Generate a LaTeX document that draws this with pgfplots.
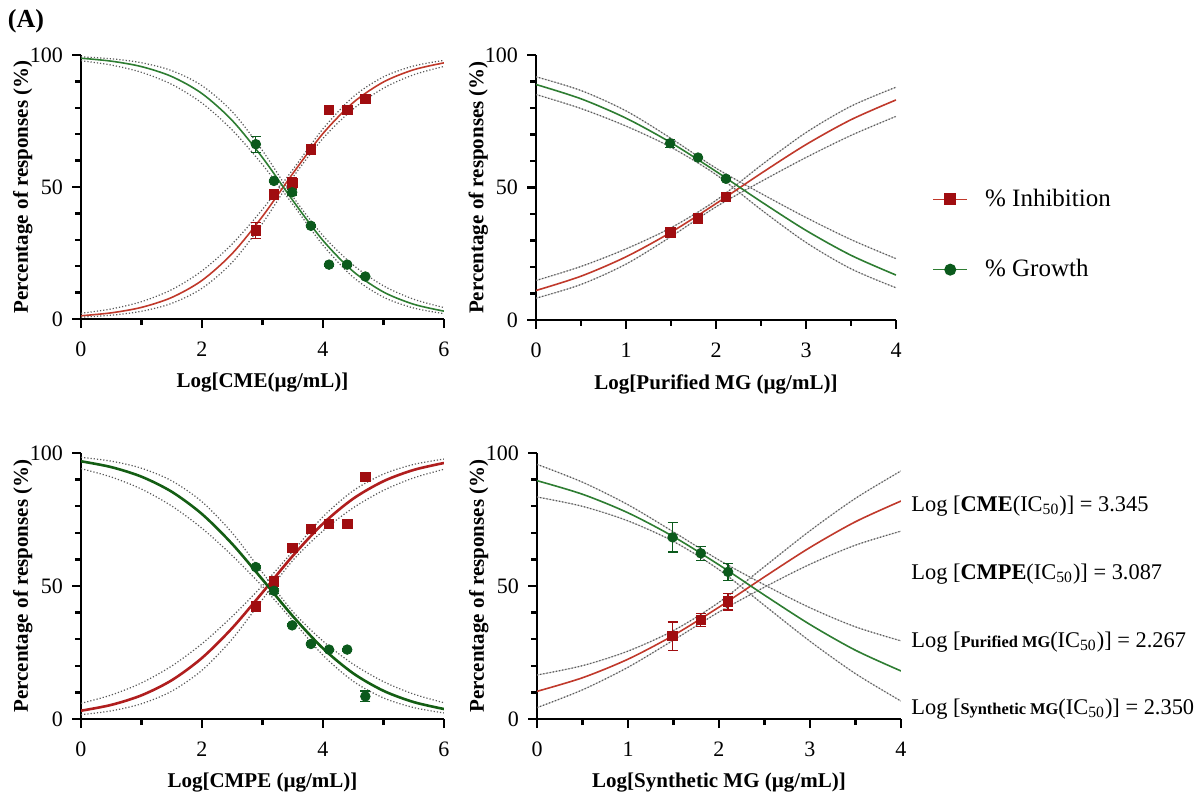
\documentclass[border=0pt]{standalone}
\usepackage{pgfplots}
\pgfplotsset{compat=1.18}
\usepackage{fontspec}
\setmainfont{Liberation Serif}
\definecolor{redline}{HTML}{C0392B}
\definecolor{redmark}{HTML}{A00D10}
\definecolor{greenline}{HTML}{2E7D32}
\definecolor{greenmark}{HTML}{0B5A1C}
\definecolor{redthick}{HTML}{B01E1E}
\definecolor{greenthick}{HTML}{145E14}
\pgfplotsset{
  prism/.style={
    scale only axis, axis lines=left, axis line style={-, line width=1.3pt, black},
    tick align=outside, xtick align=outside, ytick align=outside,
    major tick length=4.5pt, minor tick length=3pt,
    every tick/.style={line width=1.2pt, black},
    ymin=0, ymax=100, ytick={0,50,100}, minor y tick num=4,
    tick label style={font=\fontsize{11}{12}\selectfont},
    xticklabel style={yshift=-3.5pt},
    yticklabel style={xshift=-1pt},
    /pgf/number format/assume math mode=true,
    ylabel={Percentage of responses (\%)},
    label style={font=\bfseries\fontsize{10.5}{12}\selectfont},
    ylabel style={at={(axis description cs:-0.16,0.5)}, anchor=center},
    xlabel style={at={(axis description cs:0.5,0)}, yshift=-32pt, anchor=center},
  },
  band/.style={black!65, densely dotted, line width=0.6pt, smooth, mark=none, forget plot},
  bandsolid/.style={gray!45, line width=0.5pt, smooth, mark=none, forget plot},
  rfit/.style={redline, line width=0.8pt, smooth, mark=none, forget plot},
  gfit/.style={greenline, line width=0.8pt, smooth, mark=none, forget plot},
  rdata/.style={only marks, mark=square*, mark size=2.4pt, redmark, mark options={fill=redmark}, forget plot,
    error bars/.cd, y dir=both, y explicit, error bar style={line width=0.6pt}, error mark options={rotate=90, mark size=2.5pt, line width=0.6pt}},
  gdata/.style={only marks, mark=*, mark size=2.4pt, greenmark, mark options={fill=greenmark}, forget plot,
    error bars/.cd, y dir=both, y explicit, error bar style={line width=0.6pt}, error mark options={rotate=90, mark size=2.5pt, line width=0.6pt}},
}
\begin{document}
\begin{tikzpicture}
\path[use as bounding box] (0,0) rectangle (600.5pt,399.5pt);
\node[font=\bfseries\fontsize{13}{15}\selectfont] at (13pt,389pt) {(A)};

% ---------------- Panel 1: CME
\begin{axis}[prism, at={(40.5pt,240pt)}, anchor=origin, width=181.5pt, height=132pt,
  xmin=0, xmax=6, xtick={0,2,4,6}, minor x tick num=1,
  xlabel={Log[CME(\textmu g/mL)]}]
\addplot[band] coordinates {(0,2.17)(0.5,3.80)(1,6.57)(1.5,11.12)(2,18.23)(2.5,28.44)(3,41.56)(3.5,56.54)(4,72.03)(4.5,84.19)(5,91.72)(5.5,95.85)(6,97.97)};
\addplot[band] coordinates {(0,0.69)(0.5,1.42)(1,2.93)(1.5,5.92)(2,11.61)(2.5,21.49)(3,36.23)(3.5,53.59)(4,68.43)(4.5,79.57)(5,87.43)(5.5,92.53)(6,95.66)};
\addplot[band] coordinates {(0,99.31)(0.5,98.58)(1,97.07)(1.5,94.08)(2,88.39)(2.5,78.51)(3,63.77)(3.5,46.41)(4,31.57)(4.5,20.43)(5,12.57)(5.5,7.47)(6,4.34)};
\addplot[band] coordinates {(0,97.83)(0.5,96.20)(1,93.43)(1.5,88.88)(2,81.77)(2.5,71.56)(3,58.44)(3.5,43.46)(4,27.97)(4.5,15.81)(5,8.28)(5.5,4.15)(6,2.03)};
\addplot[rfit] coordinates {(0,1.22)(0.5,2.33)(1,4.40)(1.5,8.16)(2,14.61)(2.5,24.81)(3,38.87)(3.5,55.07)(4,70.27)(4.5,82.00)(5,89.78)(5.5,94.42)(6,97.03)};
\addplot[gfit] coordinates {(0,98.78)(0.5,97.67)(1,95.60)(1.5,91.84)(2,85.39)(2.5,75.19)(3,61.13)(3.5,44.93)(4,29.73)(4.5,18.00)(5,10.22)(5.5,5.58)(6,2.97)};
\addplot[rdata] coordinates {(2.89,33.5)+-(0,3)(3.19,47.3)+-(0,1)(3.49,51.5)+-(0,2)(3.80,64.3)+-(0,1)(4.10,79.2)+-(0,0.5)(4.40,79.2)+-(0,0.5)(4.70,83.4)+-(0,1)};
\addplot[gdata] coordinates {(2.89,66.2)+-(0,3)(3.19,52.3)+-(0,0.5)(3.49,48.0)+-(0,1)(3.80,35.3)+-(0,0.5)(4.10,20.6)+-(0,0.5)(4.40,20.6)+-(0,0.5)(4.70,16.1)+-(0,0.5)};
\end{axis}

% ---------------- Panel 2: Purified MG
\begin{axis}[prism, at={(268pt,239.5pt)}, anchor=origin, width=180pt, height=132.5pt,
  xmin=0, xmax=4, xtick={0,1,2,3,4}, minor x tick num=1,
  xlabel={Log[Purified MG (\textmu g/mL)]},
  legend style={at={(axis description cs:1.10,0.3226)}, anchor=west, draw=none, fill=none,
    font=\fontsize{12.5}{14}\selectfont, row sep=21pt, inner sep=0pt,
    /tikz/every odd column/.append style={column sep=6.5pt}},
  legend cell align=left]
\addlegendimage{redline, line width=0.8pt, mark=square*, mark size=2.6pt, mark options={fill=redmark, draw=redmark}}
\addlegendentry{\% Inhibition}
\addlegendimage{greenline, line width=0.8pt, mark=*, mark size=2.6pt, mark options={fill=greenmark, draw=greenmark}}
\addlegendentry{\% Growth}
\addplot[bandsolid] coordinates {(0,14.90)(0.5,20.21)(1,26.83)(1.5,34.81)(2,45.13)(2.5,58.35)(3,70.73)(3.5,80.68)(4,87.84)};
\addplot[band] coordinates {(0,14.90)(0.5,20.21)(1,26.83)(1.5,34.81)(2,45.13)(2.5,58.35)(3,70.73)(3.5,80.68)(4,87.84)};
\addplot[bandsolid] coordinates {(0,8.22)(0.5,13.41)(1,21.09)(1.5,31.47)(2,42.70)(2.5,52.24)(3,61.32)(3.5,69.65)(4,76.85)};
\addplot[band] coordinates {(0,8.22)(0.5,13.41)(1,21.09)(1.5,31.47)(2,42.70)(2.5,52.24)(3,61.32)(3.5,69.65)(4,76.85)};
\addplot[bandsolid] coordinates {(0,91.78)(0.5,86.59)(1,78.91)(1.5,68.53)(2,57.30)(2.5,47.76)(3,38.68)(3.5,30.35)(4,23.15)};
\addplot[band] coordinates {(0,91.78)(0.5,86.59)(1,78.91)(1.5,68.53)(2,57.30)(2.5,47.76)(3,38.68)(3.5,30.35)(4,23.15)};
\addplot[bandsolid] coordinates {(0,85.10)(0.5,79.79)(1,73.17)(1.5,65.19)(2,54.87)(2.5,41.65)(3,29.27)(3.5,19.32)(4,12.16)};
\addplot[band] coordinates {(0,85.10)(0.5,79.79)(1,73.17)(1.5,65.19)(2,54.87)(2.5,41.65)(3,29.27)(3.5,19.32)(4,12.16)};
\addplot[rfit] coordinates {(0,11.13)(0.5,16.53)(1,23.84)(1.5,33.11)(2,43.92)(2.5,55.31)(3,66.19)(3.5,75.58)(4,83.04)};
\addplot[gfit] coordinates {(0,88.87)(0.5,83.47)(1,76.16)(1.5,66.89)(2,56.08)(2.5,44.69)(3,33.81)(3.5,24.42)(4,16.96)};
\addplot[rdata] coordinates {(1.49,33.1)+-(0,1)(1.80,38.4)+-(0,1)(2.11,46.5)+-(0,1)};
\addplot[gdata] coordinates {(1.49,66.7)+-(0,1.5)(1.80,61.3)+-(0,0.5)(2.11,53.3)+-(0,0.5)};
\end{axis}

% ---------------- Panel 3: CMPE
\begin{axis}[prism, at={(40.5pt,40pt)}, anchor=origin, width=181.5pt, height=133pt,
  xmin=0, xmax=6, xtick={0,2,4,6}, minor x tick num=1,
  xlabel={Log[CMPE (\textmu g/mL)]}]
\addplot[band] coordinates {(0,5.89)(0.5,9.02)(1,13.57)(1.5,19.93)(2,28.31)(2.5,38.58)(3,50.18)(3.5,63.01)(4,76.02)(4.5,85.82)(5,92.08)(5.5,95.71)(6,97.72)};
\addplot[band] coordinates {(0,1.62)(0.5,3.06)(1,5.73)(1.5,10.46)(2,18.33)(2.5,30.08)(3,44.98)(3.5,59.59)(4,70.72)(4.5,79.39)(5,85.95)(5.5,90.65)(6,93.89)};
\addplot[band] coordinates {(0,98.38)(0.5,96.94)(1,94.27)(1.5,89.54)(2,81.67)(2.5,69.92)(3,55.02)(3.5,40.41)(4,29.28)(4.5,20.61)(5,14.05)(5.5,9.35)(6,6.11)};
\addplot[band] coordinates {(0,94.11)(0.5,90.98)(1,86.43)(1.5,80.07)(2,71.69)(2.5,61.42)(3,49.82)(3.5,36.99)(4,23.98)(4.5,14.18)(5,7.92)(5.5,4.29)(6,2.28)};
\addplot[redthick, line width=1.3pt, smooth, mark=none, forget plot] coordinates {(0,3.11)(0.5,5.30)(1,8.90)(1.5,14.57)(2,22.95)(2.5,34.21)(3,47.58)(3.5,61.31)(4,73.45)(4.5,82.84)(5,89.40)(5.5,93.64)(6,96.25)};
\addplot[greenthick, line width=1.3pt, smooth, mark=none, forget plot] coordinates {(0,96.89)(0.5,94.70)(1,91.10)(1.5,85.43)(2,77.05)(2.5,65.79)(3,52.42)(3.5,38.69)(4,26.55)(4.5,17.16)(5,10.60)(5.5,6.36)(6,3.75)};
\addplot[rdata] coordinates {(2.89,42.4)+-(0,0.5)(3.19,51.8)+-(0,1.5)(3.49,64.3)+-(0,0.5)(3.80,71.4)+-(0,0.5)(4.10,73.3)+-(0,0.5)(4.40,73.3)+-(0,0.5)(4.70,91.0)+-(0,1.5)};
\addplot[gdata] coordinates {(2.89,57.1)+-(0,0.5)(3.19,48.2)+-(0,1)(3.49,35.2)+-(0,0.5)(3.80,28.2)+-(0,0.5)(4.10,26.1)+-(0,0.5)(4.40,26.1)+-(0,0.5)(4.70,8.5)+-(0,2)};
\end{axis}

% ---------------- Panel 4: Synthetic MG
\begin{axis}[prism, at={(268.5pt,40pt)}, anchor=origin, width=182pt, height=133pt,
  xmin=0, xmax=4, xtick={0,1,2,3,4}, minor x tick num=1,
  xlabel={Log[Synthetic MG (\textmu g/mL)]}]
\addplot[bandsolid] coordinates {(0,16.53)(0.5,20.05)(1,25.53)(1.5,33.26)(2,43.86)(2.5,57.31)(3,70.77)(3.5,82.96)(4,93.26)};
\addplot[band] coordinates {(0,16.53)(0.5,20.05)(1,25.53)(1.5,33.26)(2,43.86)(2.5,57.31)(3,70.77)(3.5,82.96)(4,93.26)};
\addplot[bandsolid] coordinates {(0,4.27)(0.5,10.97)(1,19.45)(1.5,29.66)(2,40.24)(2.5,49.57)(3,58.17)(3.5,65.36)(4,70.62)};
\addplot[band] coordinates {(0,4.27)(0.5,10.97)(1,19.45)(1.5,29.66)(2,40.24)(2.5,49.57)(3,58.17)(3.5,65.36)(4,70.62)};
\addplot[bandsolid] coordinates {(0,95.73)(0.5,89.03)(1,80.55)(1.5,70.34)(2,59.76)(2.5,50.43)(3,41.83)(3.5,34.64)(4,29.38)};
\addplot[band] coordinates {(0,95.73)(0.5,89.03)(1,80.55)(1.5,70.34)(2,59.76)(2.5,50.43)(3,41.83)(3.5,34.64)(4,29.38)};
\addplot[bandsolid] coordinates {(0,83.47)(0.5,79.95)(1,74.47)(1.5,66.74)(2,56.14)(2.5,42.69)(3,29.23)(3.5,17.04)(4,6.74)};
\addplot[band] coordinates {(0,83.47)(0.5,79.95)(1,74.47)(1.5,66.74)(2,56.14)(2.5,42.69)(3,29.23)(3.5,17.04)(4,6.74)};
\addplot[rfit] coordinates {(0,10.40)(0.5,15.51)(1,22.49)(1.5,31.46)(2,42.05)(2.5,53.44)(3,64.47)(3.5,74.16)(4,81.94)};
\addplot[gfit] coordinates {(0,89.60)(0.5,84.49)(1,77.51)(1.5,68.54)(2,57.95)(2.5,46.56)(3,35.53)(3.5,25.84)(4,18.06)};
\addplot[rdata] coordinates {(1.49,31.2)+-(0,5.3)(1.80,37.2)+-(0,2.5)(2.10,44.1)+-(0,3.1)};
\addplot[gdata] coordinates {(1.49,68.3)+-(0,5.5)(1.80,62.3)+-(0,2.6)(2.10,55.3)+-(0,3.1)};
\end{axis}

% ---------------- IC50 annotations
\begin{scope}[every node/.style={anchor=west, inner sep=0pt, font=\fontsize{11.2}{13}\selectfont}]
\node at (455.5pt,146.5pt) {Log [\textbf{CME}(IC\textsubscript{50})] = 3.345};
\node at (455.5pt,112.5pt) {Log [\textbf{CMPE}(IC\textsubscript{50})] = 3.087};
\node at (455.5pt,78.5pt) {Log [{\fontsize{8.2}{10}\selectfont\textbf{Purified MG}}(IC\textsubscript{50})] = 2.267};
\node at (455.5pt,45pt) {Log [{\fontsize{8.2}{10}\selectfont\textbf{Synthetic MG}}(IC\textsubscript{50})] = 2.350};
\end{scope}
\end{tikzpicture}
\end{document}
